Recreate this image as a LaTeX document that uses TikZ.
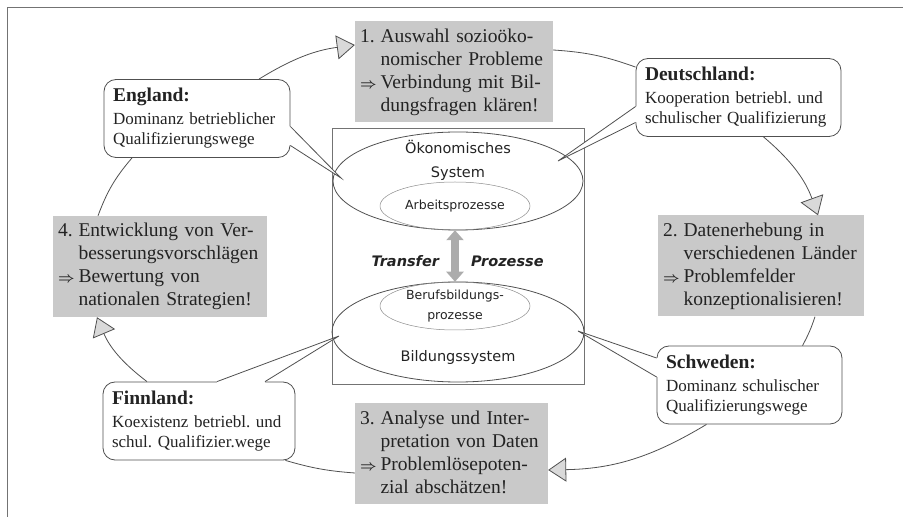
\documentclass[tikz,border=0pt]{standalone}
\usepackage{fontspec}
\setmainfont{Liberation Serif}
\newfontfamily\comicfont{DejaVu Sans}
\usetikzlibrary{arrows.meta,shapes.geometric}
\frenchspacing

\definecolor{kasten}{RGB}{201,201,201}
\definecolor{linie}{RGB}{80,80,80}
\definecolor{schrift}{RGB}{35,35,35}

\newcommand\stufefont{\fontsize{19.5}{23}\selectfont}
\newcommand\landfont{\fontsize{17}{20}\selectfont}
\newcommand\titelfont{\fontsize{19.5}{22}\selectfont\bfseries}
\newcommand\schritt[5]{\begin{tabular}{@{}l@{\hspace{4pt}}l@{}}#1&#2\\&#3\\{\fontsize{14.4}{14}\selectfont\boldmath$\Rightarrow$}&#4\\&#5\end{tabular}}
\newcommand\zeiger[4]{%
  \fill[white] ([shift={(#4)}]#1) -- (#1) -- (#2) -- (#3) -- ([shift={(#4)}]#3) -- cycle;
  \draw[rand] (#1) -- (#2) -- (#3);}

\begin{document}
\begin{tikzpicture}[x=1pt,
            y=1pt,
            rand/.style={draw=linie, line width=0.8pt},
            stufe/.style={fill=kasten, inner xsep=5pt, inner ysep=0pt,
                          minimum height=101pt, font=\stufefont, text=schrift, align=left},
            land/.style={rand, fill=white, rounded corners=12pt, inner xsep=9pt,
                         minimum height=78pt, font=\landfont, text=schrift, align=left},
            aussen/.style={ellipse, draw=linie, line width=0.8pt, inner sep=0pt},
            innen/.style={ellipse, draw=black!45, line width=0.5pt, inner sep=0pt,
                          minimum width=150pt, minimum height=48pt, text=schrift,
                          font=\comicfont\fontsize{12.5}{20}\selectfont, align=center},
            systext/.style={text=schrift, font=\comicfont\fontsize{14.5}{24}\selectfont, align=center},
            transtext/.style={text=schrift, inner sep=0pt,
                              font=\comicfont\bfseries\itshape\fontsize{14.5}{17}\selectfont},
            transfer/.style={draw=gray!65, line width=8pt,
                             {Triangle[length=10pt,width=17pt]}-{Triangle[length=10pt,width=17pt]}},
            kreis/.style={rand},
            pfeil/.style={rand, -{Triangle[length=18pt,width=24pt,fill=kasten!70]}}]

        \useasboundingbox (0,0) rectangle (903,517);
        \draw[black!55, line width=0.8pt] (7,0) |- (903,510);

        % Schritte
        \node[stufe, text width=188pt] (s1) at (454,445)
            {\schritt{1.}{Auswahl sozioöko-}{nomischer Probleme}{Verbindung mit Bil-}{dungsfragen klären!}};
        \node[stufe, text width=196pt] (s2) at (761,251)
            {\schritt{2.}{Datenerhebung in}{verschiedenen Länder}{Problemfelder}{konzeptionalisieren!}};
        \node[stufe, text width=183pt] (s3) at (451.5,63)
            {\schritt{3.}{Analyse und Inter-}{pretation von Daten}{Problemlösepoten-}{zial abschätzen!}};
        \node[stufe, text width=204pt] (s4) at (160,250.5)
            {\schritt{4.}{Entwicklung von Ver-}{besserungsvorschlägen}{Bewertung von}{nationalen Strategien!}};

        % Systeme
        \node[draw=black!55, line width=0.6pt, minimum width=252pt, minimum height=256pt] (sys) at (458,261) {};
        \node[aussen, minimum width=250pt, minimum height=98pt] (oek) at (458,336) {};
        \node[aussen, minimum width=252pt, minimum height=100pt] (bild) at (458,185) {};
        \node[innen] (arb) at (455,311) {Arbeitsprozesse};
        \node[innen] (beruf) at (455,211) {Berufsbildungs-\\prozesse};
        \node[systext] (oektext) at ([yshift=21pt]oek.center) {Ökonomisches\\System};
        \node[systext] (bildtext) at ([yshift=-26pt]bild.center) {Bildungssystem};

        \draw[transfer] (arb.south) -- (beruf.north)
            node[midway, left=12pt, yshift=-5pt, transtext] {Transfer}
            node[midway, right=12pt, yshift=-5pt, transtext] {Prozesse};

        % Laender
        \node[land, text width=168pt] (eng) at (197,398.5)
            {{\titelfont England:}\\[3pt] Dominanz betrieblicher\\ Qualifizierungswege};
        \node[land, text width=187pt] (deu) at (738.5,419.5)
            {{\titelfont Deutschland:}\\[3pt] Kooperation betriebl. und\\ schulischer Qualifizierung};
        \node[land, text width=167pt] (schw) at (749.5,132)
            {{\titelfont Schweden:}\\[3pt] Dominanz schulischer\\ Qualifizierungswege};
        \node[land, text width=174pt] (finn) at (199,96)
            {{\titelfont Finnland:}\\[3pt] Koexistenz betriebl. und\\ schul. Qualifizier.wege};

        \coordinate (eng1) at ([yshift=-8pt]eng.east);
        \coordinate (eng2) at ([yshift=-27pt]eng.east);
        \coordinate (engz) at (341,339);
        \coordinate (deu1) at ([yshift=-9pt]deu.west);
        \coordinate (deu2) at ([yshift=-25pt]deu.west);
        \coordinate (deuz) at (558,356);
        \coordinate (schw1) at ([yshift=27pt]schw.west);
        \coordinate (schw2) at ([yshift=8pt]schw.west);
        \coordinate (schwz) at (578,186);
        \coordinate (finn1) at ([xshift=18pt]finn.north);
        \coordinate (finn2) at ([xshift=66pt]finn.north);
        \coordinate (finnz) at (339,181);

        \zeiger{eng1}{engz}{eng2}{-1.5,0}
        \zeiger{deu1}{deuz}{deu2}{1.5,0}
        \zeiger{schw1}{schwz}{schw2}{1.5,0}
        \zeiger{finn1}{finnz}{finn2}{0,-1.5}

        % Kreislauf
        \draw[pfeil] ([xshift=62pt]eng.north) to[bend left=12] ([yshift=27pt]s1.west);
        \draw[kreis] ([yshift=22pt]s1.east) to[bend left=8] ([yshift=-9pt]deu.north west);
        \draw[pfeil] ([xshift=25pt]deu.south) to[bend left=15] ([xshift=57pt]s2.north);
        \draw[kreis] ([xshift=54pt]s2.south) to[bend left=5] ([xshift=53pt]schw.north);
        \draw[pfeil] ([xshift=-43pt]schw.south) to[bend left=15] ([yshift=-16pt]s3.east);
        \draw[kreis] ([yshift=-19pt]s3.west) to[bend left=6] ([xshift=-10pt]finn.south east);
        \draw[pfeil] ([xshift=-52pt]finn.north) to[bend left=15] ([xshift=-63pt]s4.south);
        \draw[kreis] ([xshift=-62pt]s4.north) to[bend left=10] ([xshift=-65pt]eng.south);

    \end{tikzpicture}
\end{document}
